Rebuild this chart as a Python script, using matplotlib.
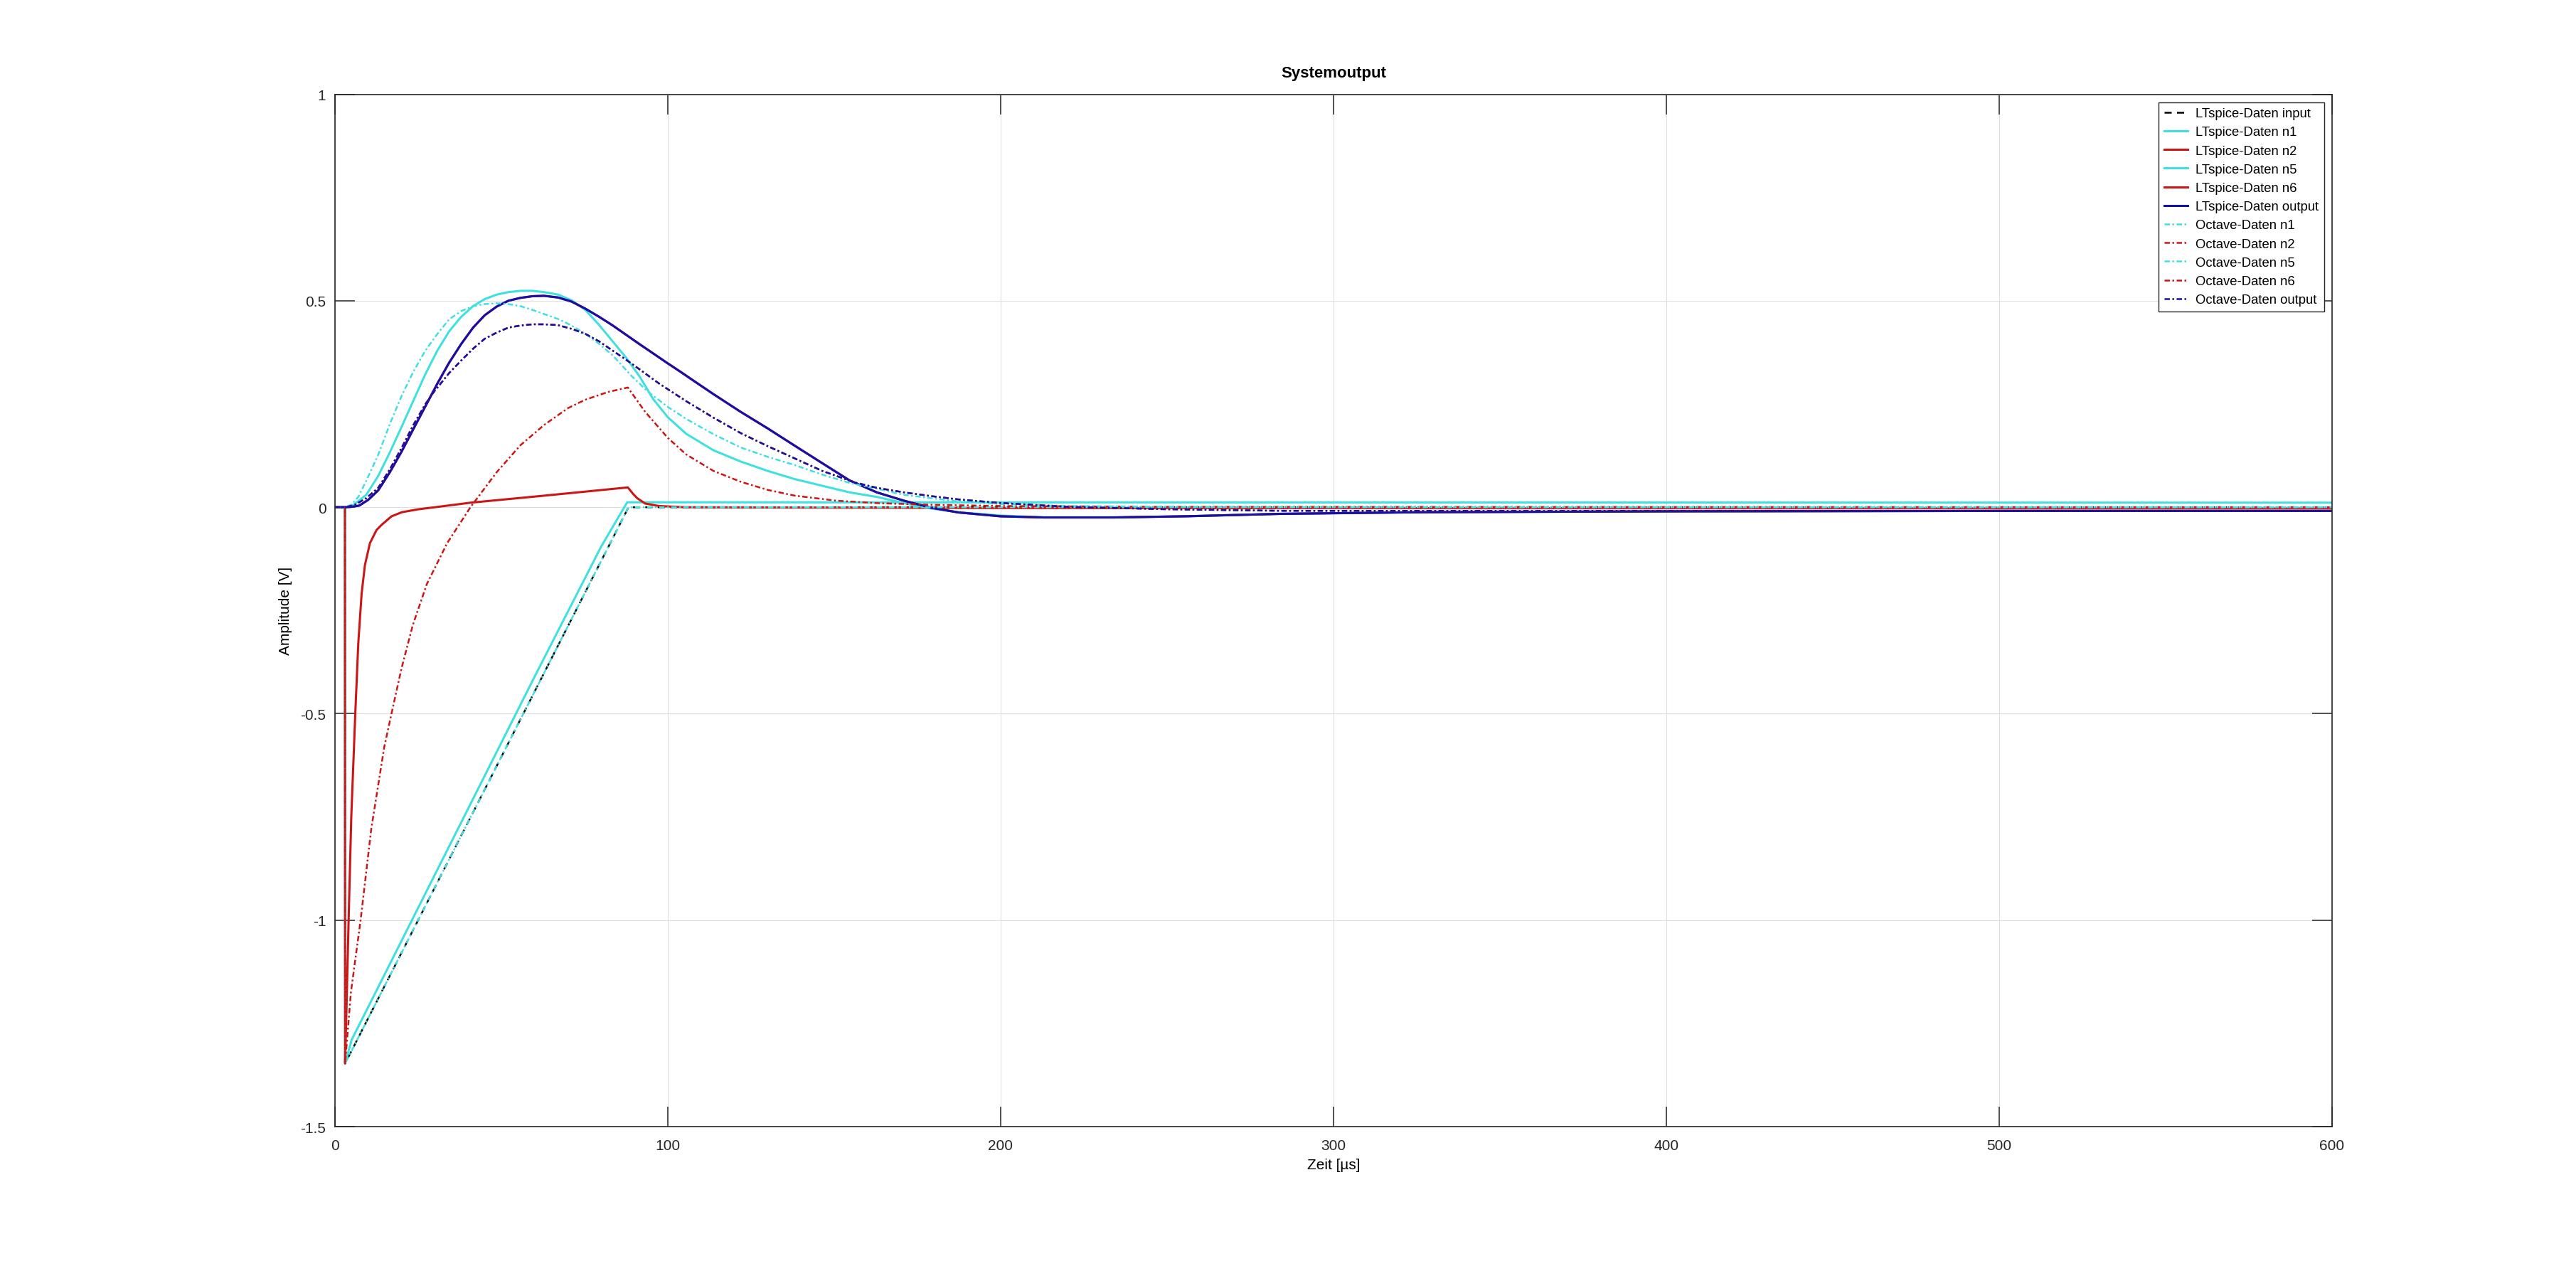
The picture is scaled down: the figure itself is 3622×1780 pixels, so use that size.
import matplotlib.pyplot as plt

plt.rcParams['font.family'] = ['Liberation Sans', 'DejaVu Sans']
plt.rcParams['axes.unicode_minus'] = False

# time in us, voltage in V

# LTspice data
lt_in_t = [0, 3, 3.05, 88.2, 600]
lt_in_v = [0, 0, -1.347, 0.0, 0.0]

lt_n1_t = [0, 3, 3.05, 5, 20, 40, 60, 80, 87.8, 600]
lt_n1_v = [0, 0, -1.347, -1.29, -1.05, -0.73, -0.41, -0.095, 0.012, 0.011]

lt_n2_t = [0, 3, 3.05, 3.5, 4.1, 4.9, 6.1, 7.0, 8.0, 9.0, 10.5, 12.5, 14.1, 17, 20.1, 25, 30,
           40.7, 62.8, 88, 89.5, 90.8, 93.2, 97.3, 105, 200, 600]
lt_n2_v = [0, 0, -1.347, -1.2, -1.0, -0.75, -0.5, -0.33, -0.21, -0.14, -0.087, -0.055, -0.042,
           -0.022, -0.012, -0.005, 0.0, 0.011, 0.028, 0.048, 0.033, 0.022, 0.009, 0.003, 0.0,
           -0.002, -0.003]

lt_n5_t = [0, 3, 4.5, 5.8, 9.4, 13, 16.5, 20.1, 23.6, 27.2, 30.8, 34.3, 37.9, 41.5, 45, 48.6,
           52.1, 55.7, 59.3, 62.8, 67, 71.1, 75.2, 79.2, 83.3, 87.4, 91.5, 95.6, 100, 105.5,
           113.7, 121.8, 130, 138.2, 146.4, 154.6, 162.8, 171, 179, 187.3, 200, 213, 234, 256,
           284, 327, 400, 500, 600]
lt_n5_v = [0, 0, 0.001, 0.007, 0.030, 0.076, 0.133, 0.196, 0.259, 0.323, 0.380, 0.426, 0.461,
           0.487, 0.504, 0.515, 0.521, 0.524, 0.524, 0.521, 0.515, 0.501, 0.478, 0.443, 0.403,
           0.363, 0.317, 0.262, 0.218, 0.178, 0.138, 0.111, 0.088, 0.068, 0.052, 0.036, 0.025,
           0.010, -0.003, -0.012, -0.020, -0.0245, -0.0245, -0.022, -0.016, -0.012, -0.010,
           -0.009, -0.009]

lt_out_t = [0, 3, 5, 7.3, 10, 13, 16.5, 20.1, 23.6, 27.2, 30.8, 34.3, 37.9, 41.5, 45, 48.6,
            52.1, 55.7, 59.3, 62.8, 67, 71.1, 75.2, 79.2, 83.3, 87.4, 91.5, 95.7, 99.7, 104,
            108, 113.7, 121.7, 130, 139.5, 148.9, 154.6, 162.8, 170.9, 179, 187.3, 200, 213,
            234, 256, 284, 327, 400, 500, 600]
lt_out_v = [0, 0, 0.001, 0.004, 0.018, 0.041, 0.085, 0.136, 0.190, 0.245, 0.300, 0.350, 0.395,
            0.435, 0.465, 0.486, 0.500, 0.507, 0.511, 0.512, 0.508, 0.498, 0.481, 0.462, 0.441,
            0.418, 0.395, 0.372, 0.350, 0.327, 0.305, 0.274, 0.232, 0.191, 0.142, 0.094, 0.065,
            0.036, 0.016, -0.001, -0.0126, -0.022, -0.0247, -0.0247, -0.0218, -0.016, -0.012,
            -0.010, -0.009, -0.009]

# n6 lies under the output trace in the original
lt_n6_t = list(lt_out_t)
lt_n6_v = list(lt_out_v)

# Octave data
oct_n1_t = [0, 3, 3.05, 88.2, 600]
oct_n1_v = [0, 0, -1.347, 0.0, 0.0]

oct_n2_t = [0, 3, 3.05, 4.8, 7.7, 10.9, 14.8, 17.0, 20.0, 23.4, 27.6, 33.7, 40.7, 48.6, 55.7,
            62.8, 70, 75.1, 82, 88, 93.2, 100, 105.5, 113.7, 121.8, 130, 138.2, 150.5, 162.8,
            179, 200, 250, 600]
oct_n2_v = [0, 0, -1.347, -1.174, -1.0, -0.779, -0.581, -0.499, -0.39, -0.285, -0.186, -0.087,
            0.0, 0.085, 0.150, 0.199, 0.240, 0.260, 0.279, 0.290, 0.231, 0.168, 0.128, 0.088,
            0.062, 0.042, 0.028, 0.016, 0.010, 0.006, 0.003, 0.001, 0.0]

oct_n5_t = [0, 3, 5.1, 7, 9.4, 13, 16.5, 20.1, 23.6, 27.2, 30.8, 34.3, 37.9, 41.5, 45, 48.6,
            52.1, 55.7, 59.3, 62.8, 67, 71.1, 75.2, 79.3, 83.3, 89.1, 94, 100, 105.5, 113.7,
            121.8, 130, 138.2, 146.4, 154.6, 162.8, 171, 179.1, 187.3, 200, 220, 250, 300, 600]
oct_n5_v = [0, 0, 0.007, 0.025, 0.064, 0.127, 0.202, 0.271, 0.329, 0.380, 0.420, 0.455, 0.475,
            0.487, 0.492, 0.494, 0.492, 0.487, 0.478, 0.468, 0.456, 0.440, 0.420, 0.396, 0.369,
            0.318, 0.280, 0.243, 0.214, 0.177, 0.145, 0.122, 0.102, 0.079, 0.059, 0.045, 0.030,
            0.022, 0.014, 0.0075, 0.003, 0.001, 0.0, 0.0]

oct_out_t = [0, 3, 5.8, 9.4, 13, 16.5, 20.1, 23.6, 27.2, 29.4, 34.3, 37.9, 41.5, 45, 48.6,
             52.1, 55.7, 59.3, 62.8, 67, 71.1, 75.2, 79.3, 83.3, 87.5, 91.5, 97.3, 105.5, 113.7,
             121.8, 130, 138.2, 146.4, 156.2, 162.8, 171, 179.1, 187.3, 200, 220, 248, 284,
             350, 450, 600]
oct_out_v = [0, 0, 0.005, 0.022, 0.047, 0.092, 0.145, 0.200, 0.250, 0.276, 0.325, 0.355, 0.384,
             0.408, 0.423, 0.435, 0.440, 0.443, 0.443, 0.441, 0.432, 0.420, 0.402, 0.380, 0.357,
             0.334, 0.300, 0.257, 0.217, 0.180, 0.148, 0.118, 0.088, 0.060, 0.047, 0.036, 0.027,
             0.019, 0.0103, 0.0011, -0.0046, -0.0086, -0.009, -0.009, -0.009]

oct_n6_t = list(oct_out_t)
oct_n6_v = list(oct_out_v)

cyan = '#40e0e0'
red = '#cc1515'
blue = '#1212aa'
dashdot = (0, (3, 1.4, 1, 1.4))

fig = plt.figure(figsize=(36.23, 17.81), dpi=100)
ax = fig.add_axes([0.13, 0.11, 0.775, 0.815])

ax.plot(lt_in_t, lt_in_v, color='k', lw=1.8, ls=(0, (4, 3)), label='LTspice-Daten input')
ax.plot(lt_n1_t, lt_n1_v, color=cyan, lw=2.2, label='LTspice-Daten n1')
ax.plot(lt_n2_t, lt_n2_v, color=red, lw=2.2, label='LTspice-Daten n2')
ax.plot(lt_n5_t, lt_n5_v, color=cyan, lw=2.2, label='LTspice-Daten n5')
ax.plot(lt_n6_t, lt_n6_v, color=red, lw=2.2, label='LTspice-Daten n6')
ax.plot(lt_out_t, lt_out_v, color=blue, lw=2.2, label='LTspice-Daten output')
ax.plot(oct_n1_t, oct_n1_v, color=cyan, lw=1.8, ls=dashdot, label='Octave-Daten n1')
ax.plot(oct_n2_t, oct_n2_v, color=red, lw=1.8, ls=dashdot, label='Octave-Daten n2')
ax.plot(oct_n5_t, oct_n5_v, color=cyan, lw=1.8, ls=dashdot, label='Octave-Daten n5')
ax.plot(oct_n6_t, oct_n6_v, color=red, lw=1.8, ls=dashdot, label='Octave-Daten n6')
ax.plot(oct_out_t, oct_out_v, color=blue, lw=1.8, ls=dashdot, label='Octave-Daten output')

ax.set_xlim(0, 600)
ax.set_ylim(-1.5, 1)
ax.set_xticks([0, 100, 200, 300, 400, 500, 600])
ax.set_xticklabels(['0', '100', '200', '300', '400', '500', '600'])
ax.set_yticks([-1.5, -1, -0.5, 0, 0.5, 1])
ax.set_yticklabels(['-1.5', '-1', '-0.5', '0', '0.5', '1'])
ax.tick_params(direction='in', length=20, width=1.1, top=True, right=True,
               labelsize=15, colors='#262626')
ax.tick_params(axis='x', pad=12)
ax.tick_params(axis='y', pad=9)
for s in ax.spines.values():
    s.set_color('#262626')
    s.set_linewidth(1.2)

ax.grid(True, color='#dedede', lw=0.8)
ax.set_axisbelow(True)

ax.set_title('Systemoutput', fontsize=16, fontweight='bold', pad=18)
ax.set_xlabel('Zeit [µs]', fontsize=15, labelpad=6)
ax.set_ylabel('Amplitude [V]', fontsize=15, labelpad=8)

ax.legend(loc='upper right', fontsize=13.3, fancybox=False, edgecolor='#262626', framealpha=1,
          borderaxespad=0.6, labelspacing=0.5, handlelength=1.8, handletextpad=0.6,
          borderpad=0.4)

fig.savefig('out.png', dpi=100)
